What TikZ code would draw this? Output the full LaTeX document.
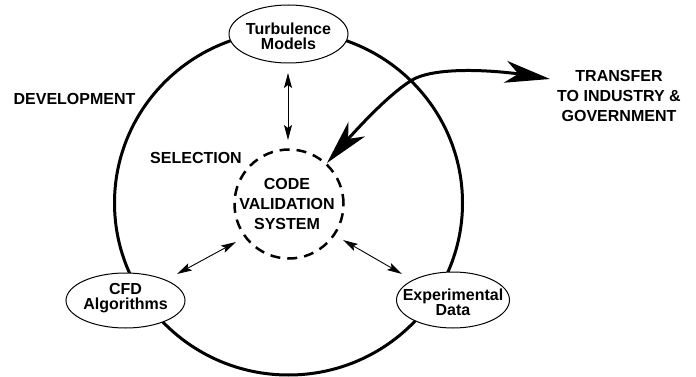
\documentclass[tikz,border=0pt]{standalone}
\usepackage{fontspec}
\setmainfont{Liberation Sans}
\usetikzlibrary{arrows.meta,shapes.geometric,bending}
\begin{document}
\begin{tikzpicture}[x=1pt,y=-1pt,
  lbl/.style={font=\bfseries\fontsize{16}{20}\selectfont, align=center, inner sep=0pt},
  ovaltext/.style={font=\bfseries\fontsize{16}{15}\selectfont, align=center, inner sep=0pt},
  oval/.style={ellipse, draw, line width=1pt, fill=white, inner sep=0pt},
  dbl/.style={line width=0.9pt, {Stealth[length=15pt,width=8pt,inset=3pt]}-{Stealth[length=15pt,width=8pt,inset=3pt]}},
  bigtip/.style={line width=3pt, {Stealth[length=45pt,width=22pt,inset=13pt]}-{Stealth[length=45pt,width=22pt,inset=13pt]}}]
\useasboundingbox (0,0) rectangle (696,377);
% big circle
\draw[line width=3pt] (288.5,203) ellipse [x radius=174pt, y radius=172pt];
% ovals
\node[oval, minimum width=119pt, minimum height=58pt] (turb) at (288.5,34) {};
\node[ovaltext] (turbt) at (288.5,36) {Turbulence\\Models};
\node[oval, minimum width=119pt, minimum height=55pt] (cfd) at (125.5,300.5) {};
\node[ovaltext] (cfdt) at (125.5,298) {CFD\\Algorithms};
\node[oval, minimum width=113pt, minimum height=56pt] (exp) at (453,300) {};
\node[ovaltext] (expt) at (453,302) {Experimental\\Data};
% dashed circle
\node[circle, draw, line width=2.5pt, dash pattern=on 10pt off 7pt, minimum size=109pt, inner sep=0pt] (cvs) at (289,204) {};
\node[lbl] (cvst) at (287,204) {CODE\\VALIDATION\\SYSTEM};
% labels
\node[lbl] (dev) at (74.5,99.2) {DEVELOPMENT};
\node[lbl] (sel) at (196,157.5) {SELECTION};
\node[lbl] (tr) at (619,96) {TRANSFER\\TO INDUSTRY \&\\GOVERNMENT};
% thin double arrows
\coordinate (a1) at (288,73);
\coordinate (a2) at (288,140);
\coordinate (b1) at (177,274);
\coordinate (b2) at (236,242);
\coordinate (c1) at (343,240);
\coordinate (c2) at (402,274);
\draw[dbl] (a1) -- (a2);
\draw[dbl] (b1) -- (b2);
\draw[dbl] (c1) -- (c2);
% transfer arrow
\coordinate (ta) at (327,163);
\coordinate (tm) at (412,80);
\coordinate (tb) at (550,79);
\draw[bigtip] (ta) .. controls (357,128) and (388,95) .. (tm) .. controls (436,66) and (500,69) .. (tb);
\end{tikzpicture}
\end{document}
